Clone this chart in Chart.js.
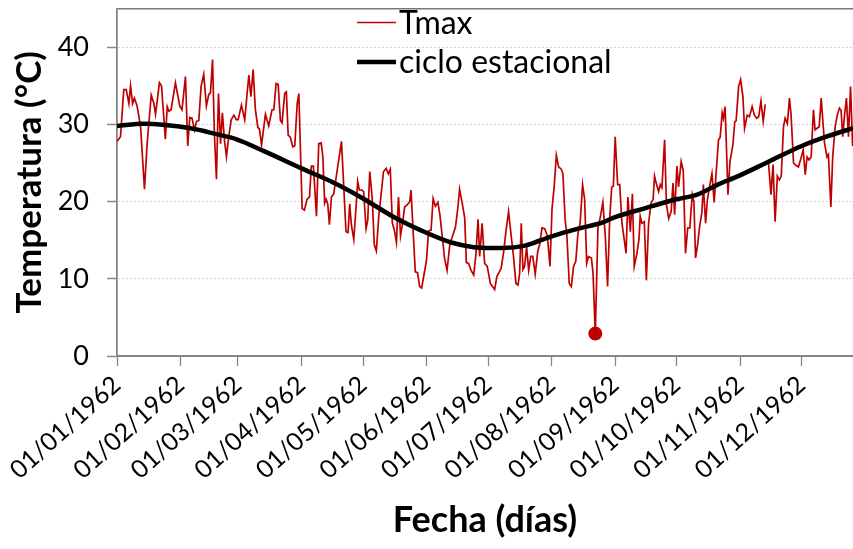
<!DOCTYPE html>
<html><head><meta charset="utf-8">
<script src="https://cdn.jsdelivr.net/npm/chart.js@4/dist/chart.umd.min.js"></script>
<style>html,body{margin:0;padding:0;background:#fff}</style>
</head><body>
<canvas id="c" width="853" height="549"></canvas>
<script>
// ---- data ----
const seriesNames = ['Tmax', 'ciclo estacional'];
const monthTickDays = [0, 31, 59, 90, 120, 151, 181, 212, 243, 273, 304, 334];
const monthTickLabels = ['01/01/1962','01/02/1962','01/03/1962','01/04/1962','01/05/1962','01/06/1962',
  '01/07/1962','01/08/1962','01/09/1962','01/10/1962','01/11/1962','01/12/1962'];
const yTickValues = [0, 10, 20, 30, 40];
const axisTitles = ['Fecha (días)', 'Temperatura (°C)'];

// day of year (0 = 01/01/1962) and daily maximum temperature
const tmaxDay = [0,1.7,3.3,4.5,5.8,6.6,7.6,8.5,9.8,11.5,13.4,14.7,16.7,18,18.8,20.7,21.7,23.6,24.5,25.3,26.4,28.5,30.6,31.7,33.4,34.5,35.5,36.6,37.8,38.8,39.9,41,42.3,43.6,44.8,45.6,46.6,47.5,48.5,49.5,50.5,51.4,52.4,53.4,54.5,55.7,57,58.2,59.1,60.7,62.3,64.3,65.3,66.4,67.5,68.7,69.5,70.5,72.4,74,75.6,76.5,77.6,78.6,79.7,80.5,81.8,82.6,83.5,84.6,85.7,86.7,87.9,88.7,90.3,91.4,92.7,93.9,94.8,95.8,97.3,98.4,99.6,100.4,101.3,102,102.8,103.6,104.6,105.7,109.5,111.7,112.7,113.5,114.3,115.5,116.6,117.4,118.2,119.5,120.3,121.5,122.3,123.3,124.5,125.5,126.5,127.6,128.7,130,131.3,132.3,133.3,134.3,135.3,136.3,137.3,138.3,139.3,140.3,141.6,142.8,143.4,144.6,145.5,146.6,147.6,148.6,149.6,150.9,152,153.2,154.2,155.3,156.5,157.5,158.6,159.8,161,162.3,164,165.1,166.3,167.1,168.5,169.6,170.4,171.5,172.7,174,175.1,176.1,176.9,178.1,179.3,180.6,182.1,183.2,184.2,185.3,186.5,187.4,188.6,189.7,191,192.3,193.4,194.6,195.6,196.4,197.2,198,198.8,199.8,200.8,201.8,202.8,204,205.2,206.2,207.3,208.6,209.9,211.2,212.2,213.3,214.3,215.4,216.7,217.5,218.6,219.4,220.6,221.6,222.7,223.8,224.8,225.9,227.1,228.1,229.1,230,231.4,232.2,233.3,234.6,235.7,237,238.2,239.3,240.3,241.3,242.1,243,244.2,245.2,246.3,247.4,248.3,249.2,250.4,251.4,252.3,253.6,254.6,255.2,256,257.2,258.2,259.3,260.5,261.5,262.2,263,264.2,265,265.8,267.1,268,269.1,270.3,271.2,272,273.1,273.9,275.2,276.2,277.3,278.4,279.4,280.6,281.4,282.2,283.2,284.1,285.3,286,287.1,288,289,290.2,291.3,292.2,293.4,294.2,295.2,295.8,296.6,297.4,298,299,300.4,301.3,302,303.2,304.2,305.3,306.1,307.4,308.5,309.8,310.9,312,313,314.1,315.2,316.2,317,317.8,319,320,321,322.1,323.1,324,325.1,325.9,327,328,328.8,330,331.1,332.4,333.5,334.7,335.7,336.6,337.6,338.6,339.7,340.5,341.5,342.5,343.5,344.3,345.1,346.3,347,348.2,349.1,350.3,351.5,352.4,353.2,354,354.8,355.8,356.8,357.8,358.8];
const tmaxValue = [27.8,28.4,34.5,34.5,32.7,35.0,32.7,33.4,32.4,29.7,21.6,27.5,33.8,32.7,31.3,35.4,35.0,28.1,32.3,31.7,31.9,35.4,32.4,31.9,36.2,27.2,30.9,30.8,29.3,30.4,30.5,34.9,36.5,32.4,33.9,34.1,38.4,28.8,22.9,34.0,27.5,31.5,28.0,25.8,28.4,30.6,31.2,30.6,30.6,32.5,30.6,36.4,33.6,37.1,31.9,29.6,29.4,27.3,31.3,29.8,31.9,31.9,35.3,35.2,30.5,30.2,34.0,34.2,28.6,28.3,27.1,27.2,32.7,34.0,19.1,18.9,20.3,20.6,24.6,24.6,18.1,27.5,27.6,25.8,19.8,20.3,19.7,17.0,20.6,21.0,27.8,16.1,16.0,19.7,17.0,15.1,19.3,22.6,21.5,21.5,21.3,16.5,17.6,23.9,20.4,14.4,13.6,17.8,20.6,23.9,24.3,23.6,24.2,17.2,16.3,14.7,20.6,15.6,17.2,19.3,19.6,20.0,21.5,15.4,10.9,10.8,9.0,8.8,10.3,12.3,16.2,16.3,20.4,19.4,19.9,18.3,15.6,12.6,11.1,14.4,15.8,16.7,19.3,21.6,19.6,17.9,12.1,12.0,11.1,10.5,13.3,17.7,12.9,17.2,12.0,11.6,9.4,9.0,8.6,10.3,10.9,11.4,13.5,16.1,18.7,15.5,12.9,9.4,9.2,10.7,17.2,11.2,11.6,14.1,11.1,12.9,12.9,10.6,13.5,14.5,16.6,16.5,15.6,11.6,19.1,22.1,26.0,24.5,24.2,23.6,17.6,15.8,9.4,9.0,11.6,12.3,15.8,17.2,22.2,20.3,12.0,12.9,12.7,10.7,2.9,16.7,17.9,19.9,15.4,9.0,17.6,21.9,22.0,28.4,22.2,22.2,17.2,15.1,13.3,20.6,16.1,21.0,11.6,13.3,15.1,18.1,17.2,17.4,9.8,17.2,19.8,20.3,23.3,22.4,21.3,22.2,21.8,28.0,19.6,17.8,18.7,22.4,18.3,24.6,21.9,25.2,24.0,13.3,16.6,16.6,20.9,20.0,12.7,14.4,16.6,18.6,22.2,17.2,20.3,21.9,23.6,19.9,23.6,28.0,28.3,31.5,30.8,32.3,26.0,20.9,25.2,27.3,30.3,30.5,34.9,35.8,33.6,29.5,31.2,31.0,32.3,31.2,30.8,31.0,33.0,30.4,32.6,null,25.0,20.9,24.8,17.4,23.3,22.8,23.3,29.7,30.8,30.1,33.4,31.2,25.0,24.7,24.5,25.5,26.7,23.5,25.8,25.4,25.8,31.9,29.3,29.5,29.7,33.4,30.4,27.6,25.8,26.1,19.3,25.8,29.7,31.4,32.1,31.8,28.4,31.0,33.4,28.4,34.9,27.2];

// seasonal cycle read at sparse days
const cycleDay   = [0, 13, 36, 49, 58, 72, 90, 106, 120, 135, 148, 163, 174, 182, 188, 199, 212, 225, 237, 242, 257, 273, 283, 293, 303, 318, 334, 347, 359];
const cycleValue = [29.8, 30.1, 29.5, 28.7, 28.1, 26.5, 24.3, 22.4, 20.4, 18.0, 16.3, 14.7, 14.1, 14.0, 14.0, 14.3, 15.5, 16.5, 17.3, 17.9, 19.1, 20.3, 20.9, 22.2, 23.3, 25.2, 27.2, 28.5, 29.5];

// ---- build chart ----
const tmaxPoints = tmaxDay.map((d, i) => ({x: d, y: tmaxValue[i]}));
const cyclePoints = cycleDay.map((d, i) => ({x: d, y: cycleValue[i]}));
const minValue = Math.min(...tmaxValue.filter(v => v !== null));

const RED = '#c00000';
const AXIS = '#868686';
const FONT = 'Lato';

const legendPlugin = {
  id: 'customLegend',
  afterDraw(chart) {
    const ctx = chart.ctx;
    const items = [
      {y: 22.5, color: RED, width: 1.5, label: seriesNames[0]},
      {y: 62, color: '#000', width: 4.5, label: seriesNames[1]}
    ];
    ctx.save();
    ctx.font = '32px ' + FONT;
    ctx.textBaseline = 'middle';
    ctx.fillStyle = '#000';
    items.forEach(it => {
      ctx.beginPath();
      ctx.strokeStyle = it.color;
      ctx.lineWidth = it.width;
      ctx.moveTo(357, it.y);
      ctx.lineTo(396, it.y);
      ctx.stroke();
      ctx.fillText(it.label, 399, it.y + 1);
    });
    ctx.restore();
  }
};

new Chart(document.getElementById('c'), {
  type: 'line',
  data: {
    datasets: [
      {
        label: seriesNames[1],
        data: cyclePoints,
        borderColor: '#000',
        borderWidth: 4.5,
        pointRadius: 0,
        cubicInterpolationMode: 'monotone',
        order: 0
      },
      {
        label: seriesNames[0],
        data: tmaxPoints,
        borderColor: RED,
        backgroundColor: RED,
        borderWidth: 1.7,
        spanGaps: false,
        pointRadius: c => (c.raw && c.raw.y === minValue) ? 7 : 0,
        pointBorderWidth: 0,
        pointBackgroundColor: RED,
        order: 1
      }
    ]
  },
  options: {
    responsive: false,
    animation: false,
    devicePixelRatio: 1,
    layout: {padding: {top: 8.6, right: 0, bottom: 0, left: 0}},
    plugins: {legend: {display: false}, tooltip: {enabled: false}},
    scales: {
      x: {
        type: 'linear',
        min: 0,
        max: 359,
        afterBuildTicks: s => { s.ticks = monthTickDays.map(v => ({value: v})); },
        afterFit: s => { s.height = 193; s.paddingLeft = 0; s.paddingRight = 0; },
        ticks: {
          autoSkip: false,
          minRotation: 42,
          maxRotation: 42,
          padding: 4,
          color: '#000',
          font: {family: FONT, size: 25},
          callback: (v, i) => monthTickLabels[i]
        },
        grid: {
          display: true,
          drawOnChartArea: false,
          drawTicks: true,
          tickLength: 10,
          tickColor: AXIS,
          tickWidth: 1.3,
          tickBorderDash: [1, 0]
        },
        border: {display: true, color: AXIS, width: 1.8},
        title: {
          display: true,
          text: axisTitles[0],
          color: '#000',
          font: {family: FONT, size: 36, weight: 'bold'},
          padding: {top: 0, bottom: 7}
        }
      },
      y: {
        type: 'linear',
        min: 0,
        max: 45,
        afterBuildTicks: s => { s.ticks = yTickValues.concat([45]).map(v => ({value: v})); },
        afterFit: s => { s.width = 117; s.paddingTop = 0; s.paddingBottom = 0; },
        ticks: {
          padding: 18,
          color: '#000',
          font: {family: FONT, size: 27},
          callback: v => (yTickValues.includes(v) ? String(v) : '')
        },
        grid: {
          color: c => (c.tick && c.tick.value === 45) ? '#7a7a7a' : (c.tick && c.tick.value === 0 ? AXIS : '#d4d4d4'),
          lineWidth: c => (c.tick && c.tick.value === 45) ? 1.5 : 1,
          drawTicks: true,
          tickLength: 10,
          tickColor: c => (c.tick && c.tick.value === 45) ? 'rgba(0,0,0,0)' : AXIS,
          tickWidth: 1.3,
          tickBorderDash: [1, 0]
        },
        border: {
          display: true,
          color: AXIS,
          width: 1.8,
          dash: c => (c.tick && (c.tick.value === 45 || c.tick.value === 0)) ? [] : [2, 2]
        },
        title: {
          display: true,
          text: axisTitles[1],
          color: '#000',
          font: {family: FONT, size: 35, weight: 'bold'},
          padding: {top: 9, bottom: 0}
        }
      }
    }
  },
  plugins: [legendPlugin]
});
</script>
</body></html>
